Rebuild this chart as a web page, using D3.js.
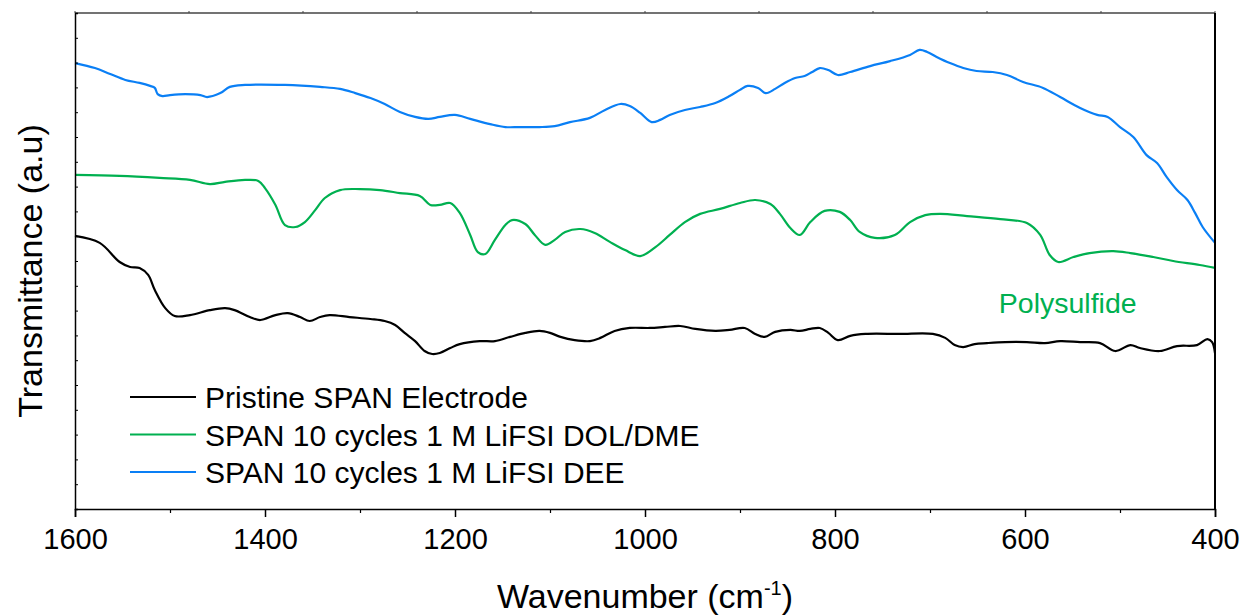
<!DOCTYPE html>
<html>
<head>
<meta charset="utf-8">
<script src="https://cdn.jsdelivr.net/npm/d3@7"></script>
<style>
  html, body { margin: 0; padding: 0; background: #fff; }
  svg { display: block; font-family: "Liberation Sans", Arial, sans-serif; }
</style>
</head>
<body>
<svg id="chart" width="1246" height="616"></svg>
<script>
// ---- Data (wavenumber in cm^-1, transmittance in arbitrary units) ----
const seriesNames = ["Pristine SPAN Electrode", "SPAN 10 cycles 1 M LiFSI DOL/DME", "SPAN 10 cycles 1 M LiFSI DEE"];
const seriesColors = ["#000000", "#00b050", "#0a7ff5"];

const pristineWn = [1600,1574,1553,1542,1532,1523,1516,1505,1495,1479,1458,1442,1432,1416,1405,1389,1376,1363,1353,1342,1332,1311,1289,1274,1263,1253,1242,1232,1224,1216,1205,1195,1174,1158,1142,1126,1111,1100,1089,1074,1058,1047,1032,1016,995,979,963,947,926,911,895,884,874,863,847,837,826,816,807,797,784,768,732,697,684,674,665,653,640,621,598,579,563,542,521,505,489,479,458,440,419,408,403,400];
const pristineT = [11.01,10.73,9.96,9.76,9.72,9.44,8.83,8.10,7.78,7.82,8.02,8.10,8.02,7.74,7.62,7.82,7.90,7.74,7.58,7.74,7.82,7.74,7.66,7.58,7.42,7.10,6.77,6.37,6.25,6.29,6.49,6.65,6.77,6.77,6.94,7.10,7.18,7.10,6.94,6.81,6.77,6.90,7.18,7.30,7.30,7.34,7.38,7.26,7.18,7.22,7.30,7.06,6.94,7.14,7.22,7.18,7.26,7.30,7.10,6.81,6.98,7.06,7.06,7.06,6.90,6.61,6.53,6.65,6.69,6.73,6.73,6.69,6.77,6.73,6.69,6.37,6.61,6.49,6.37,6.57,6.61,6.85,6.73,6.29];

const dolWn = [1600,1553,1511,1479,1458,1442,1421,1407,1400,1389,1379,1368,1358,1347,1337,1321,1300,1279,1258,1237,1226,1216,1205,1195,1184,1176,1168,1158,1147,1140,1126,1116,1105,1095,1084,1068,1053,1037,1021,1005,989,974,958,942,921,900,884,868,858,847,837,826,811,795,784,774,758,737,721,705,689,661,626,598,584,574,565,549,532,507,489,465,444,416,400];
const dolT = [13.47,13.43,13.35,13.27,13.10,13.19,13.27,13.23,12.94,12.26,11.45,11.37,11.57,12.06,12.54,12.86,12.90,12.86,12.74,12.62,12.26,12.26,12.34,11.94,11.05,10.36,10.28,10.85,11.45,11.65,11.49,11.05,10.65,10.85,11.17,11.29,11.13,10.77,10.44,10.20,10.56,11.05,11.57,11.90,12.10,12.34,12.46,12.30,11.90,11.33,11.05,11.57,12.02,11.98,11.65,11.17,10.93,11.05,11.57,11.85,11.90,11.81,11.69,11.53,11.05,10.24,9.96,10.16,10.32,10.40,10.32,10.16,10.00,9.84,9.72];

const deeWn = [1600,1579,1563,1547,1532,1521,1516,1513,1508,1500,1484,1468,1461,1447,1437,1421,1379,1342,1321,1305,1289,1274,1258,1242,1228,1216,1200,1184,1163,1147,1132,1111,1095,1079,1058,1042,1026,1016,1005,993,984,974,958,942,926,911,900,892,881,873,863,853,842,832,824,816,807,797,784,763,742,721,711,703,693,679,665,651,634,619,602,581,563,542,524,513,500,486,472,461,451,440,429,421,413,400];
const deeT = [17.98,17.78,17.54,17.30,17.18,17.06,16.98,16.73,16.65,16.69,16.73,16.69,16.61,16.77,17.02,17.10,17.10,17.02,16.94,16.77,16.57,16.33,16.01,15.81,15.73,15.81,15.89,15.73,15.52,15.40,15.40,15.40,15.44,15.60,15.77,16.09,16.33,16.25,15.97,15.60,15.69,15.89,16.09,16.21,16.37,16.65,16.90,17.06,16.98,16.77,16.94,17.18,17.38,17.46,17.62,17.78,17.70,17.50,17.62,17.86,18.06,18.31,18.51,18.43,18.23,17.98,17.78,17.66,17.62,17.50,17.22,16.98,16.61,16.17,15.89,15.81,15.40,15.00,14.27,13.95,13.39,12.86,12.46,11.94,11.37,10.73];

const xTickValues = [1600, 1400, 1200, 1000, 800, 600, 400];
const xMinorValues = [1500, 1300, 1100, 900, 700, 500];
const annotation = { text: "Polysulfide", wn: 555, t: 7.9 };

// ---- Layout ----
const svg = d3.select("#chart");
const mLeft = 75, mRight = 1215, mTop = 13, mBottom = 509;

const x = d3.scaleLinear().domain([1600, 400]).range([mLeft, mRight]);
const y = d3.scaleLinear().domain([0, 20]).range([mBottom, mTop]);

const series = [
  { name: seriesNames[0], color: seriesColors[0], wn: pristineWn, t: pristineT },
  { name: seriesNames[1], color: seriesColors[1], wn: dolWn, t: dolT },
  { name: seriesNames[2], color: seriesColors[2], wn: deeWn, t: deeT }
];

const line = d3.line()
  .x(d => x(d[0]))
  .y(d => y(d[1]))
  .curve(d3.curveCatmullRom.alpha(0.5));

series.slice().reverse().forEach(s => {
  const pts = s.wn.map((w, i) => [w, s.t[i]]);
  svg.append("path")
    .attr("d", line(pts))
    .attr("fill", "none")
    .attr("stroke", s.color)
    .attr("stroke-width", 2.2)
    .attr("stroke-linejoin", "round");
});

// Top axis (thin gray with small tick marks)
svg.append("line").attr("x1", mLeft).attr("x2", mRight).attr("y1", mTop).attr("y2", mTop)
  .attr("stroke", "#444").attr("stroke-width", 1.5);
const topTicks = d3.range(0, 11).map(i => mLeft + i * (mRight - mLeft) / 10);
svg.selectAll(".ttick").data(topTicks).enter().append("line")
  .attr("x1", d => d).attr("x2", d => d).attr("y1", mTop).attr("y2", mTop - 2)
  .attr("stroke", "#444").attr("stroke-width", 1);

// Right axis
svg.append("line").attr("x1", mRight).attr("x2", mRight).attr("y1", mTop).attr("y2", mBottom)
  .attr("stroke", "#000").attr("stroke-width", 2);

// Left axis with inward minor ticks
const yAxis = d3.axisRight(y).tickValues(d3.range(0, 21)).tickSize(3).tickFormat("");
const gy = svg.append("g").attr("transform", `translate(${mLeft},0)`).call(yAxis);
gy.select(".domain").attr("stroke", "#000").attr("stroke-width", 1.5);
gy.selectAll(".tick line").attr("stroke", "#000").attr("stroke-width", 1);

// Bottom axis
const xAxis = d3.axisBottom(x).tickValues(xTickValues).tickSize(8).tickPadding(11).tickFormat(d3.format("d"));
const gx = svg.append("g").attr("transform", `translate(0,${mBottom})`).call(xAxis);
gx.select(".domain").attr("stroke", "#000").attr("stroke-width", 1.5);
gx.selectAll(".tick line").attr("stroke", "#000").attr("stroke-width", 1.5);
gx.selectAll(".tick text").attr("font-size", 29).attr("fill", "#000")
  .attr("font-family", "Liberation Sans, Arial, sans-serif");

const xMinor = d3.axisBottom(x).tickValues(xMinorValues).tickSize(4).tickFormat("");
const gxm = svg.append("g").attr("transform", `translate(0,${mBottom})`).call(xMinor);
gxm.select(".domain").remove();
gxm.selectAll(".tick line").attr("stroke", "#000").attr("stroke-width", 1.2);

// Axis titles
const xt = svg.append("text").attr("x", (mLeft + mRight) / 2).attr("y", 608)
  .attr("text-anchor", "middle").attr("font-size", 34).attr("fill", "#000");
xt.append("tspan").text("Wavenumber (cm");
xt.append("tspan").text("-1").attr("font-size", 20).attr("dy", -13);
xt.append("tspan").text(")").attr("dy", 13);

svg.append("text")
  .attr("transform", `translate(42,${(mTop + mBottom) / 2 + 10}) rotate(-90)`)
  .attr("text-anchor", "middle").attr("font-size", 34).attr("fill", "#000")
  .text("Transmittance (a.u)");

// Legend
const legend = svg.append("g");
series.forEach((s, i) => {
  const yy = 397 + i * 37.5;
  legend.append("line").attr("x1", 130).attr("x2", 196).attr("y1", yy).attr("y2", yy)
    .attr("stroke", s.color).attr("stroke-width", 2.2);
  legend.append("text").attr("x", 205).attr("y", yy + 11)
    .attr("font-size", 30).attr("fill", "#000").text(s.name);
});

// Annotation
svg.append("text").attr("x", x(annotation.wn)).attr("y", y(annotation.t))
  .attr("text-anchor", "middle").attr("font-size", 28.5).attr("fill", seriesColors[1])
  .text(annotation.text);
</script>
</body>
</html>
